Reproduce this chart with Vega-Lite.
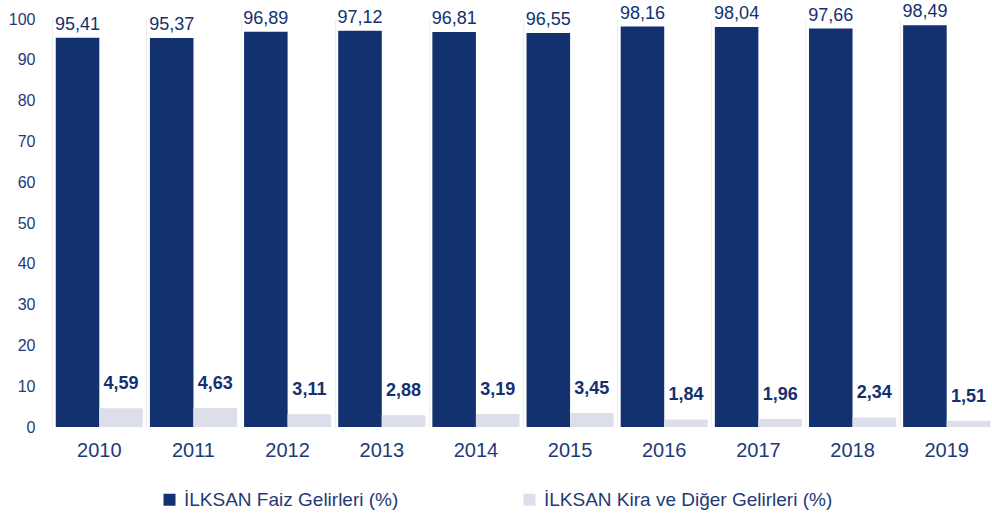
{
  "$schema": "https://vega.github.io/schema/vega-lite/v6.json",
  "width": 942,
  "height": 408,
  "autosize": {"type": "none"},
  "padding": {"left": 52, "top": 19, "right": 0, "bottom": 88},
  "background": "white",
  "config": {
    "view": {"stroke": null},
    "font": "Liberation Sans",
    "locale": {"number": {"decimal": ",", "thousands": ".", "grouping": [3], "currency": ["", " TL"]}}
  },
  "data": {
    "values": [
      {"year": "2010", "series": "İLKSAN Faiz Gelirleri (%)", "value": 95.41},
      {"year": "2010", "series": "İLKSAN Kira ve Diğer Gelirleri (%)", "value": 4.59},
      {"year": "2011", "series": "İLKSAN Faiz Gelirleri (%)", "value": 95.37},
      {"year": "2011", "series": "İLKSAN Kira ve Diğer Gelirleri (%)", "value": 4.63},
      {"year": "2012", "series": "İLKSAN Faiz Gelirleri (%)", "value": 96.89},
      {"year": "2012", "series": "İLKSAN Kira ve Diğer Gelirleri (%)", "value": 3.11},
      {"year": "2013", "series": "İLKSAN Faiz Gelirleri (%)", "value": 97.12},
      {"year": "2013", "series": "İLKSAN Kira ve Diğer Gelirleri (%)", "value": 2.88},
      {"year": "2014", "series": "İLKSAN Faiz Gelirleri (%)", "value": 96.81},
      {"year": "2014", "series": "İLKSAN Kira ve Diğer Gelirleri (%)", "value": 3.19},
      {"year": "2015", "series": "İLKSAN Faiz Gelirleri (%)", "value": 96.55},
      {"year": "2015", "series": "İLKSAN Kira ve Diğer Gelirleri (%)", "value": 3.45},
      {"year": "2016", "series": "İLKSAN Faiz Gelirleri (%)", "value": 98.16},
      {"year": "2016", "series": "İLKSAN Kira ve Diğer Gelirleri (%)", "value": 1.84},
      {"year": "2017", "series": "İLKSAN Faiz Gelirleri (%)", "value": 98.04},
      {"year": "2017", "series": "İLKSAN Kira ve Diğer Gelirleri (%)", "value": 1.96},
      {"year": "2018", "series": "İLKSAN Faiz Gelirleri (%)", "value": 97.66},
      {"year": "2018", "series": "İLKSAN Kira ve Diğer Gelirleri (%)", "value": 2.34},
      {"year": "2019", "series": "İLKSAN Faiz Gelirleri (%)", "value": 98.49},
      {"year": "2019", "series": "İLKSAN Kira ve Diğer Gelirleri (%)", "value": 1.51}
    ]
  },
  "encoding": {
    "x": {
      "field": "year", "type": "nominal",
      "scale": {"paddingInner": 0.075, "paddingOuter": 0.04},
      "axis": {
        "title": null, "domain": false, "ticks": false, "labelAngle": 0,
        "labelFontSize": 20, "labelColor": "#1f3a76", "labelPadding": 13,
        "grid": true, "gridColor": "#efefef", "gridWidth": 1, "bandPosition": -0.035
      }
    },
    "xOffset": {"field": "series", "type": "nominal", "sort": ["İLKSAN Faiz Gelirleri (%)", "İLKSAN Kira ve Diğer Gelirleri (%)"]},
    "y": {
      "field": "value", "type": "quantitative",
      "scale": {"domain": [0, 100], "nice": false},
      "axis": {
        "title": null, "domain": false, "ticks": false, "grid": false,
        "values": [0, 10, 20, 30, 40, 50, 60, 70, 80, 90, 100],
        "labelFontSize": 16, "labelColor": "#1f3a76", "labelPadding": 17
      }
    }
  },
  "layer": [
    {
      "mark": {"type": "bar"},
      "encoding": {
        "color": {
          "field": "series", "type": "nominal",
          "sort": ["İLKSAN Faiz Gelirleri (%)", "İLKSAN Kira ve Diğer Gelirleri (%)"],
          "scale": {"range": ["#13316f", "#dcdfe9"]},
          "legend": {
            "title": null, "orient": "none", "direction": "horizontal",
            "legendX": 108, "legendY": 471,
            "symbolType": "square", "symbolSize": 144, "symbolStrokeWidth": 0,
            "labelFontSize": 19, "labelColor": "#1f3a76", "labelOffset": 5, "labelLimit": 0,
            "columnPadding": 121
          }
        }
      }
    },
    {
      "transform": [{"filter": "datum.series === 'İLKSAN Faiz Gelirleri (%)'"}],
      "mark": {"type": "text", "baseline": "bottom", "dy": -4, "fontSize": 18, "color": "#13316f"},
      "encoding": {"text": {"field": "value", "type": "quantitative", "format": ".2f"}}
    },
    {
      "transform": [{"filter": "datum.series !== 'İLKSAN Faiz Gelirleri (%)'"}],
      "mark": {"type": "text", "baseline": "bottom", "dy": -15, "fontSize": 18, "fontWeight": "bold", "color": "#13316f"},
      "encoding": {"text": {"field": "value", "type": "quantitative", "format": ".2f"}}
    }
  ]
}
